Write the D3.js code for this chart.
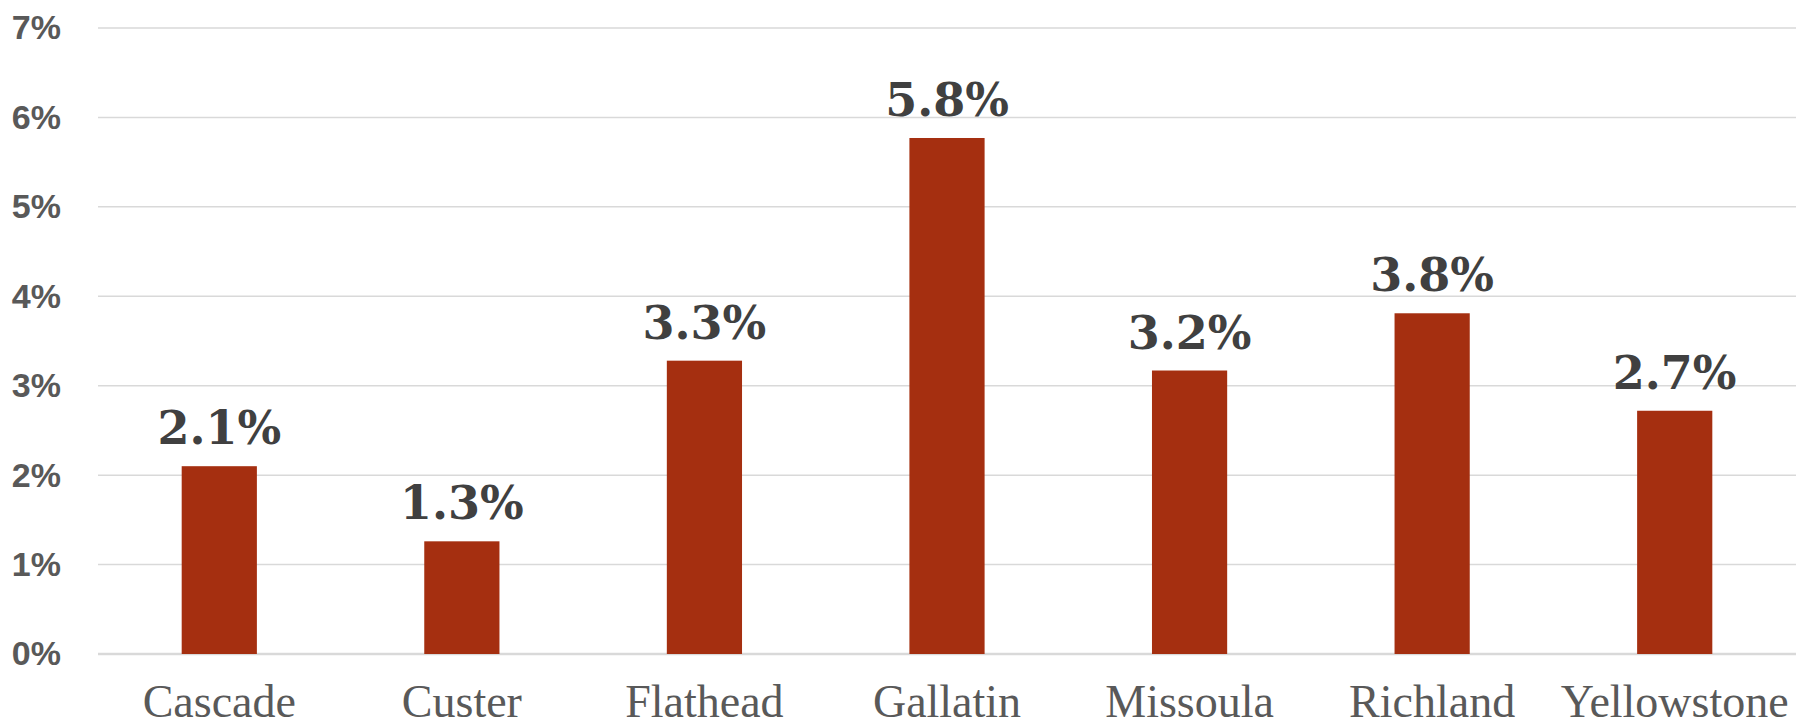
<!DOCTYPE html>
<html>
<head>
<meta charset="utf-8">
<script src="https://cdn.jsdelivr.net/npm/d3@7"></script>
<style>
  html, body { margin: 0; padding: 0; background: #fff; }
</style>
</head>
<body>
<div class="chart-container"></div>
<script>
// county growth, percent
var counties = ['Cascade', 'Custer', 'Flathead', 'Gallatin', 'Missoula', 'Richland', 'Yellowstone'];
var growth = [2.1, 1.26, 3.28, 5.77, 3.17, 3.81, 2.72];
var yTicks = [0, 1, 2, 3, 4, 5, 6, 7];

var width = 1805, height = 728;
var margin = { top: 28, right: 9, bottom: 74, left: 98 };

var svg = d3.select('.chart-container')
    .append('svg')
        .attr('width', width)
        .attr('height', height);

var x = d3.scaleBand()
    .domain(counties)
    .range([margin.left, width - margin.right])
    .paddingInner(0.69)
    .paddingOuter(0.345);

var y = d3.scaleLinear()
    .domain([0, 7])
    .range([height - margin.bottom, margin.top]);

// gridlines
svg.append('g')
    .selectAll('line')
    .data(yTicks)
    .enter().append('line')
        .attr('x1', margin.left)
        .attr('x2', width - margin.right)
        .attr('y1', function (d) { return y(d); })
        .attr('y2', function (d) { return y(d); })
        .attr('stroke', '#d9d9d9')
        .attr('stroke-width', function (d) { return d === 0 ? 2.5 : 1.5; });

// y axis labels
var yAxis = d3.axisLeft(y)
    .tickValues(yTicks)
    .tickFormat(function (d) { return d + '%'; })
    .tickSize(0)
    .tickPadding(0);

svg.append('g')
    .attr('transform', 'translate(61,0)')
    .call(yAxis)
    .call(function (g) { g.select('.domain').remove(); })
    .selectAll('text')
        .attr('fill', '#595959')
        .attr('font-family', '"Liberation Sans", Arial, sans-serif')
        .attr('font-weight', 'bold')
        .attr('font-size', '34px');

// bars
svg.append('g')
    .selectAll('rect')
    .data(counties)
    .enter().append('rect')
        .attr('x', function (d) { return x(d); })
        .attr('width', x.bandwidth())
        .attr('y', function (d, i) { return y(growth[i]); })
        .attr('height', function (d, i) { return y(0) - y(growth[i]); })
        .attr('fill', '#a52f10');

// value labels
svg.append('g')
    .selectAll('text')
    .data(counties)
    .enter().append('text')
        .attr('x', function (d) { return x(d) + x.bandwidth() / 2; })
        .attr('y', function (d, i) { return y(growth[i]) - 22; })
        .style('text-anchor', 'middle')
        .attr('fill', '#404040')
        .attr('font-family', '"DejaVu Serif", serif')
        .attr('font-weight', 'bold')
        .attr('font-size', '46px')
        .text(function (d, i) { return growth[i].toFixed(1) + '%'; });

// category labels
var xAxis = d3.axisBottom(x).tickSize(0).tickPadding(0);

svg.append('g')
    .attr('transform', 'translate(0,' + (height - 11) + ')')
    .call(xAxis)
    .call(function (g) { g.select('.domain').remove(); })
    .selectAll('text')
        .attr('dy', 0)
        .attr('fill', '#595959')
        .attr('font-family', '"Liberation Serif", "Times New Roman", serif')
        .attr('font-size', '46px');
</script>
</body>
</html>
